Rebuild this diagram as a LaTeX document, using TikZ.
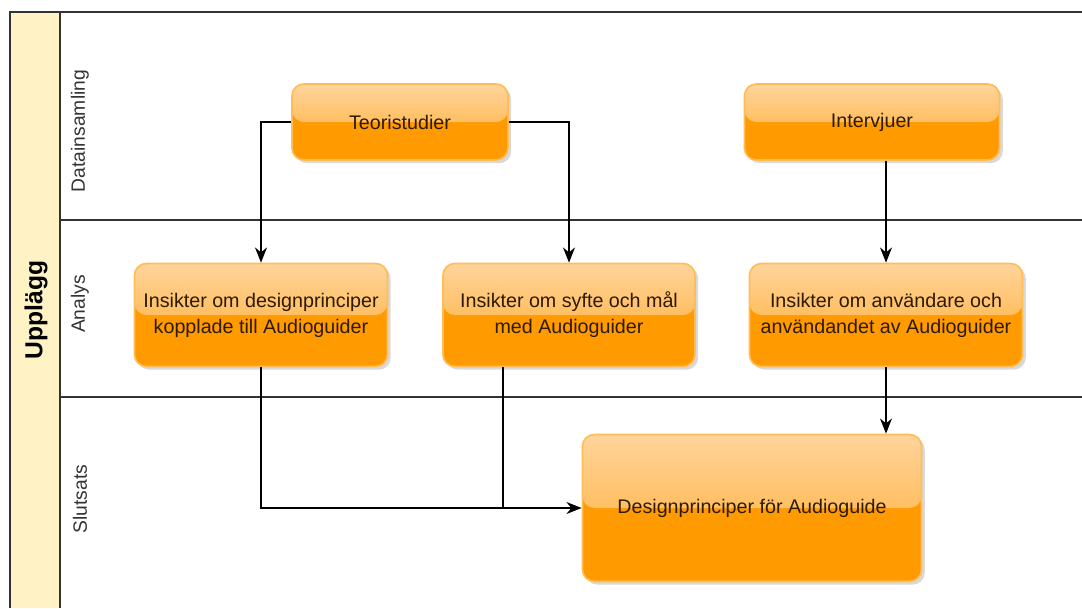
\documentclass[tikz,border=0pt]{standalone}
\usepackage{fontspec}
\setmainfont{Liberation Sans}
\usetikzlibrary{arrows.meta,shadows}
\definecolor{boxfill}{HTML}{FF9A00}
\definecolor{boxtop}{HTML}{FFD49C}
\definecolor{boxmid}{HTML}{FFAA28}
\definecolor{boxedge}{HTML}{FFBE55}
\definecolor{boxtext}{HTML}{2E1A00}
\definecolor{band}{HTML}{FFF2C4}
\definecolor{rule}{HTML}{333333}
\tikzstyle{task}=[rounded corners=0.3cm, draw=boxedge, line width=1.2pt, fill=boxfill,
  drop shadow={opacity=0.3, shadow xshift=0.08cm, shadow yshift=-0.08cm},
  path picture={\shade[top color=boxtop, bottom color=boxmid]
    (path picture bounding box.north west) rectangle (path picture bounding box.east);},
  text=boxtext, align=center, font=\fontsize{14}{18.5}\selectfont, inner sep=0pt]
\tikzstyle{lanelabel}=[rotate=90, text=rule, font=\fontsize{13.7}{16}\selectfont]
\tikzstyle{link}=[line width=1pt, -{Stealth[length=0.38cm, width=0.3cm]}]

\begin{document}
\begin{tikzpicture}[x=0.025cm, y=-0.025cm]
\useasboundingbox (0,0) rectangle (1082,608);
% pool and lanes
\fill[band] (10,12) rectangle (60,608);
\draw[rule, line width=1.4pt] (10,608) -- (10,12) -- (1082,12);
\draw[rule, line width=1.4pt] (60,12) -- (60,608);
\draw[rule, line width=1.4pt] (60,220) -- (1082,220);
\draw[rule, line width=1.4pt] (60,397) -- (1082,397);
\node[rotate=90, font=\fontsize{17.5}{20}\bfseries] (pool) at (36,310) {Upplägg};
\node[lanelabel] (data) at (80,131) {Datainsamling};
\node[lanelabel] (analys) at (80,304) {Analys};
\node[lanelabel] (slut) at (80,499) {Slutsats};
% tasks
\node[task, minimum width=5.4cm, minimum height=1.9cm] (teori) at (400,122) {Teoristudier};
\node[task, minimum width=6.375cm, minimum height=1.9cm] (interv) at (872,122) {Intervjuer};
\node[task, minimum width=6.325cm, minimum height=2.575cm] (ins1) at (261,315) {Insikter om designprinciper\\kopplade till Audioguider};
\node[task, minimum width=6.3cm, minimum height=2.575cm] (ins2) at (569,315) {Insikter om syfte och mål\\med Audioguider};
\node[task, minimum width=6.825cm, minimum height=2.575cm] (ins3) at (886,315) {Insikter om användare och\\användandet av Audioguider};
\node[task, minimum width=8.475cm, minimum height=3.675cm] (design) at (752,508) {Designprinciper för Audioguide};
\coordinate (join) at (503,508);
% flows
\draw[link] (teori.west) -| (ins1);
\draw[link] (teori.east) -| (ins2);
\draw[link] (interv.south -| ins3) -- (ins3);
\draw[link] (ins3) -- (ins3 |- design.north);
\draw[link] (ins1) |- (design.west);
\draw[line width=1pt] (ins2.south -| join) -- (join);
\end{tikzpicture}
\end{document}
